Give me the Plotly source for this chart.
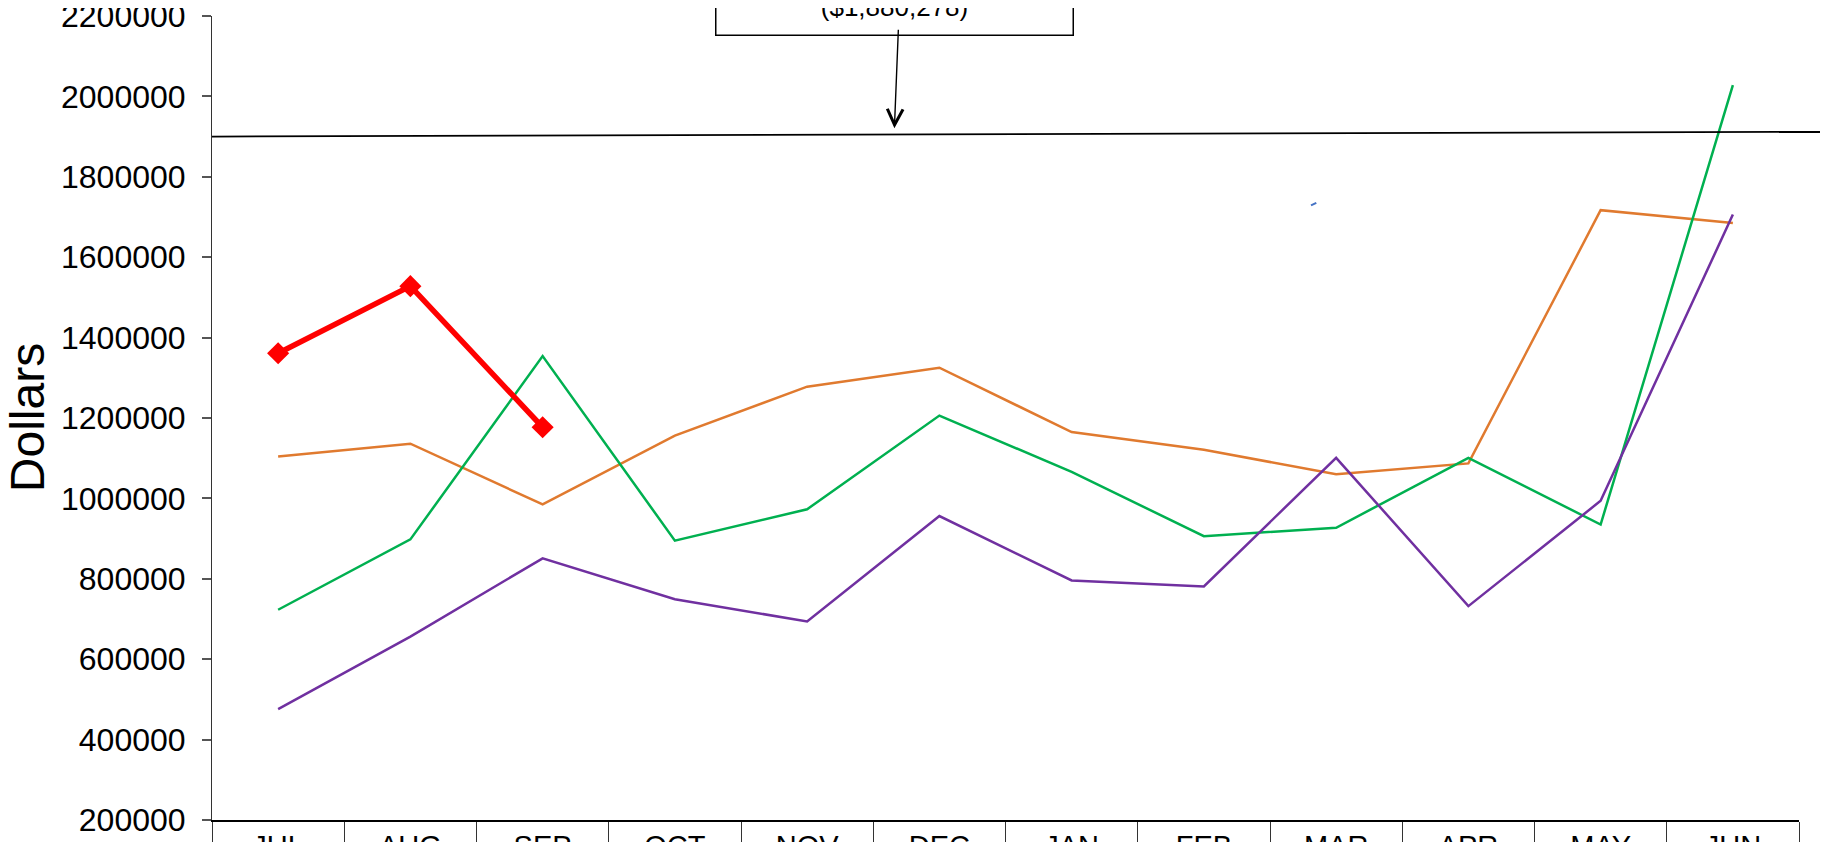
import plotly.graph_objects as go

# dados (valores aproximados)
MESES = ['JUL', 'AUG', 'SEP', 'OCT', 'NOV', 'DEC', 'JAN', 'FEB', 'MAR', 'APR', 'MAY', 'JUN']

ANO_ATUAL = [1361000, 1528000, 1177000, None, None, None, None, None, None, None, None, None]
SERIE_LARANJA = [1104000, 1136000, 985000, 1156000, 1278000, 1325000,
                 1165000, 1121000, 1060000, 1087000, 1717000, 1685000]
SERIE_VERDE = [723000, 898000, 1354000, 895000, 973000, 1206000,
               1066000, 906000, 927000, 1101000, 935000, 2028000]
SERIE_ROXA = [476000, 656000, 851000, 749000, 694000, 956000,
              796000, 781000, 1101000, 732000, 994000, 1706000]

# linha de referência (meta) — levemente inclinada no original
LINHA_META = [1900000, 1912000]
TEXTO_META = '($1,880,278)'

Y_TICKS = list(range(200000, 2200001, 200000))

FONTE = 'Liberation Sans, Arial, sans-serif'


def construir_figura():
    fig = go.Figure()

    series = [
        ('Série laranja', SERIE_LARANJA, '#E07A2F'),
        ('Série verde', SERIE_VERDE, '#00B050'),
        ('Série roxa', SERIE_ROXA, '#7030A0'),
    ]
    for nome, valores, cor in series:
        fig.add_trace(go.Scatter(
            x=MESES, y=valores, mode='lines', name=nome,
            line=dict(color=cor, width=2.5),
        ))

    fig.add_trace(go.Scatter(
        x=MESES, y=ANO_ATUAL, mode='lines+markers', name='Ano atual',
        line=dict(color='#FF0000', width=5.5),
        marker=dict(symbol='diamond', size=17, color='#FF0000'),
    ))

    # linha da meta, atravessa até a borda da imagem
    fig.add_shape(type='line', xref='paper', yref='y',
                  x0=0, x1=1.02, y0=LINHA_META[0], y1=LINHA_META[1],
                  line=dict(color='black', width=1.8))

    # pequeno traço azul que sobrou no original
    fig.add_shape(type='line', xref='x', yref='y',
                  x0=7.81, x1=7.85, y0=1729000, y1=1735000,
                  line=dict(color='#4472C4', width=2))

    # caixa de texto (cortada no topo) + seta apontando para a meta
    fig.add_annotation(
        xref='paper', yref='paper', x=0.430, y=0.975,
        xanchor='center', yanchor='bottom',
        text=TEXTO_META, showarrow=False,
        font=dict(family=FONTE, size=26, color='black'),
        width=330, height=100, valign='bottom',
        bordercolor='black', borderwidth=1.5, borderpad=13,
        bgcolor='white',
    )
    fig.add_annotation(
        xref='paper', yref='y', x=0.430, y=1921000,
        text='', showarrow=True, arrowhead=5, arrowsize=2.2,
        arrowwidth=1.4, arrowcolor='black', ax=4, ay=-100,
    )

    # título do eixo Y
    fig.add_annotation(
        xref='paper', yref='paper', x=-0.1166, y=0.501,
        xanchor='center', yanchor='middle',
        text='Dollars', textangle=-90, showarrow=False,
        font=dict(family=FONTE, size=48, color='black'),
    )

    # a página tem 8px de margem no body: a figura desconta isso
    fig.update_layout(
        width=1820, height=834,
        paper_bgcolor='white', plot_bgcolor='white',
        showlegend=False,
        margin=dict(l=204, r=29, t=8, b=22),
        font=dict(family=FONTE, color='black'),
    )
    fig.update_xaxes(
        type='category', range=[-0.5, 11.5], automargin=False,
        showline=True, linecolor='black', linewidth=2,
        ticks='outside', tickson='boundaries', ticklen=40,
        tickcolor='#333', tickwidth=1,
        ticklabelstandoff=-1, ticklabeloverflow='allow',
        tickfont=dict(family=FONTE, size=29, color='black'),
        showgrid=False, zeroline=False,
    )
    fig.update_yaxes(
        range=[200000, 2200000], tickvals=Y_TICKS, automargin=False,
        tickformat='d',
        showline=True, linecolor='#333', linewidth=1,
        ticks='outside', ticklen=9, tickcolor='#555', tickwidth=1.5,
        ticklabelstandoff=10, ticklabeloverflow='allow',
        tickfont=dict(family=FONTE, size=32, color='black'),
        showgrid=False, zeroline=False,
    )
    return fig


fig = construir_figura()
fig.write_html('out.html')
